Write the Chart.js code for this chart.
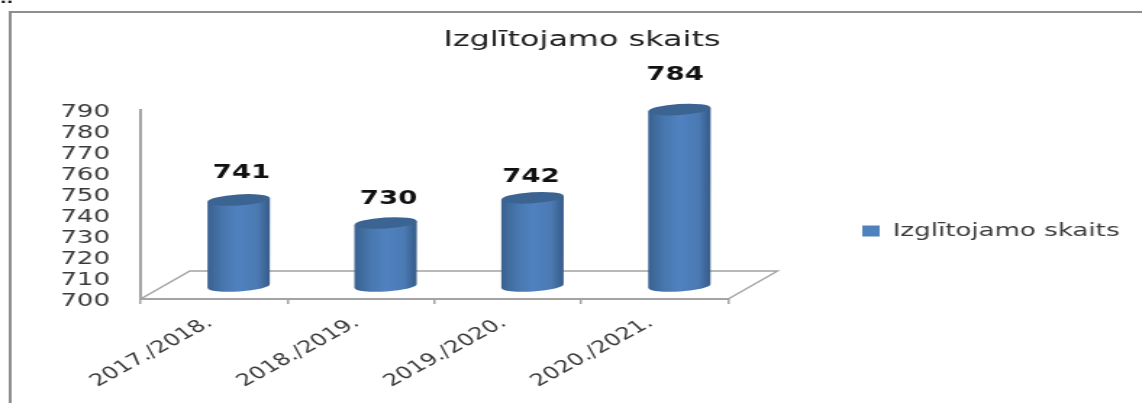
<!DOCTYPE html>
<html lang="lv">
<head>
<meta charset="UTF-8">
<title>Izglītojamo skaits</title>
<style>
  html, body { margin: 0; padding: 0; background: #fff; overflow: hidden; }
  /* the source picture is stretched sideways, so the canvas is too */
  #chart { display: block; transform-origin: 0 0; transform: scaleX(1.4492); }
</style>
</head>
<body>
<canvas id="chart" width="788" height="403"></canvas>
<script src="https://cdn.jsdelivr.net/npm/chart.js"></script>
<script>
const categories = ['2017./2018.', '2018./2019.', '2019./2020.', '2020./2021.']
const seriesName = 'Izglītojamo skaits'
const values = [741, 730, 742, 784]

const axisColor = '#a3a3a3'
const textColor = '#3a3a3a'
const depthX = 34   // floor depth
const depthY = 28
const barShiftX = 17  // cylinders stand mid-floor, not on the front edge
const barShiftY = 13
// how far each number sits from its cylinder top
const labelNudge = [[2, 27], [2, 24], [-1, 21], [-3, 35]]

const cylinders = {
  id: 'cylinders',
  beforeDraw(chart) {
    const ctx = chart.ctx
    ctx.save()
    ctx.fillStyle = '#fff'
    ctx.fillRect(0, 0, chart.width, chart.height)
    // picture frame
    ctx.fillStyle = '#8e8e8e'
    ctx.fillRect(6, 11, chart.width, 2)
    ctx.fillRect(6, 11, 2, chart.height)
    // scrap of text cut off at the top of the picture
    ctx.fillStyle = '#111'
    ctx.font = 'bold 12px "DejaVu Sans"'
    ctx.fillText('..', 0, 3)
    ctx.restore()
  },
  beforeDatasetDraw(chart) {
    const ctx = chart.ctx
    const a = chart.chartArea
    ctx.save()
    // floor
    ctx.strokeStyle = axisColor
    ctx.lineWidth = 1.4
    ctx.beginPath()
    ctx.moveTo(a.left, a.bottom)
    ctx.lineTo(a.left + depthX, a.bottom - depthY)
    ctx.lineTo(a.right + depthX, a.bottom - depthY)
    ctx.lineTo(a.right, a.bottom)
    ctx.stroke()

    chart.getDatasetMeta(0).data.forEach((bar, i) => {
      const cx = bar.x + barShiftX
      const rx = bar.width / 2
      const ry = 5.5
      const tilt = -0.09
      const lift = rx * Math.sin(-tilt)
      const top = bar.y - barShiftY
      const base = a.bottom - barShiftY

      const grad = ctx.createLinearGradient(cx - rx, 0, cx + rx, 0)
      grad.addColorStop(0, '#3a6190')
      grad.addColorStop(0.25, '#4777ad')
      grad.addColorStop(0.5, '#5082c0')
      grad.addColorStop(0.8, '#4b7ab3')
      grad.addColorStop(1, '#365b88')

      ctx.fillStyle = grad
      ctx.beginPath()
      ctx.moveTo(cx - rx, top + lift)
      ctx.lineTo(cx - rx, base + lift)
      ctx.ellipse(cx, base, rx, ry, tilt, Math.PI, 0, true)
      ctx.lineTo(cx + rx, top - lift)
      ctx.closePath()
      ctx.fill()

      ctx.fillStyle = '#3c6492'
      ctx.beginPath()
      ctx.ellipse(cx, top, rx, ry, tilt, 0, Math.PI * 2)
      ctx.fill()

      ctx.fillStyle = '#111'
      ctx.font = 'bold 19px "DejaVu Sans"'
      ctx.textAlign = 'center'
      ctx.textBaseline = 'middle'
      ctx.fillText(values[i], cx + labelNudge[i][0], top - labelNudge[i][1])
    })
    ctx.restore()
    return false
  },
  afterLayout(chart) {
    const legend = chart.legend
    const dy = 231 - (legend.top + legend.bottom) / 2
    legend.left = 590
    legend.right = chart.width
    legend.top += dy
    legend.bottom += dy
    const title = chart.titleBlock
    const w = title.right - title.left
    title.left = 401.6 - w / 2
    title.right = 401.6 + w / 2
  }
}

new Chart(document.getElementById('chart'), {
  type: 'bar',
  data: {
    labels: categories,
    datasets: [{
      label: seriesName,
      data: values,
      backgroundColor: '#4f81bd',
      barPercentage: 0.425,
      categoryPercentage: 1
    }]
  },
  plugins: [cylinders],
  options: {
    responsive: false,
    animation: false,
    layout: { padding: { left: 0, right: 118, top: 0, bottom: 0 } },
    plugins: {
      tooltip: { enabled: false },
      title: {
        display: true,
        text: seriesName,
        color: '#222',
        font: { family: 'DejaVu Sans', size: 22, weight: 'normal' },
        padding: { top: 27, bottom: 56.6 }
      },
      legend: {
        position: 'right',
        labels: {
          boxWidth: 12,
          boxHeight: 11,
          padding: 5,
          color: textColor,
          font: { family: 'DejaVu Sans', size: 18 }
        }
      }
    },
    scales: {
      x: {
        afterFit(scale) { scale.height = 104 },
        border: { color: axisColor, width: 2 },
        grid: { drawOnChartArea: false, color: axisColor, tickLength: 5, lineWidth: 1.5 },
        ticks: {
          color: textColor,
          font: { family: 'DejaVu Sans', size: 16.8 },
          minRotation: 38,
          maxRotation: 38,
          autoSkip: false,
          labelOffset: -3,
          padding: 9
        }
      },
      y: {
        min: 700,
        max: 790,
        afterFit(scale) { scale.width = 97 },
        border: { color: axisColor, width: 2 },
        grid: { display: false, drawTicks: false },
        ticks: {
          stepSize: 10,
          autoSkip: false,
          labelOffset: 2,
          color: textColor,
          font: { family: 'DejaVu Sans', size: 18 },
          padding: 21
        }
      }
    }
  }
})
</script>
</body>
</html>
